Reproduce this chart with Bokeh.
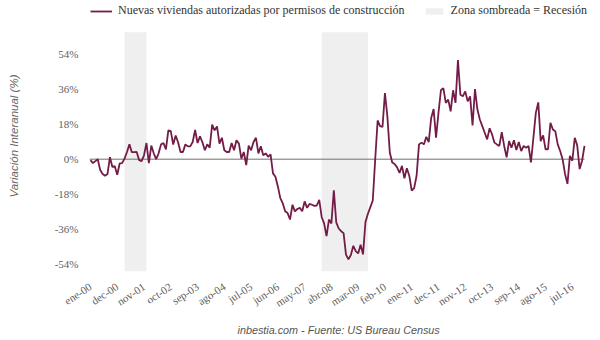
import numpy as np
from bokeh.plotting import figure
from bokeh.models import (FixedTicker, Legend, LegendItem, Title,
                          ColumnDataSource, Range1d)
from bokeh.embed import file_html
from bokeh.resources import INLINE

# Monthly year-on-year change (%), Jan 2000 - Dec 2016
variacion = [
    -0.5, -2, -1, 0, -5.6, -7.6, -8.5, -7.6, 1, -4,
    -3.6, -8, -2.2, -2, 0.3, 3.7, 7.6, 3.6, 3.6, 3.7,
    -0.5, -1, 2, 8.3, -2, 7, 3, 0, 3, 7.6,
    8.3, 5, 14.8, 14.4, 7.5, 12.2, 8.7, 3.7, 3.7, 7.6,
    6.6, 6.6, 8.8, 15, 8.3, 11.7, 8.7, 4.6, 7.6, 5.9,
    17.8, 14.8, 16.8, 8, 11, 4.6, 3.7, 3.7, 8.3, 4.6,
    9.7, 8, 0.3, 3.7, -3, 7, 4.6, 8.8, 11, 3,
    6.6, 2, 3, 1.2, 2.5, -7.3, -9, -14, -20, -22.6,
    -26.8, -27.7, -31, -23.4, -26.8, -25.6, -25, -26.8, -21.7, -25,
    -23, -23.4, -24, -23.8, -20.9,
    -29.7, -33, -39.5, -31, -33, -16, -32.5, -35.6, -37, -38,
    -49, -51.5, -49.2, -44.5, -47.2, -48.4, -44, -48.9, -32.3, -28,
    -24.6, -21.2, 0,
    19.9, 17, 16.6, 34, 22, 3.4, -1.7, -2.5, -4.2, -7.1,
    -3.4, -9.8, -4.7, -8.5, -16.1, -14.9, -8.5, 7.6, 8.5, 7.6,
    11.5, 8.8, 21.2, 25.8, 11, 23.8, 35.4, 36.5, 28.9, 30.6,
    24.6, 35.4, 28.9, 50.9, 33.1, 32.3, 34.8, 29.7, 32.3, 17.3,
    36, 25.5, 20.4, 17, 13.6, 10.2, 15.9, 12.8, 8.5, 7.6,
    6.8, 13.9, 6.8, 0.9, 9.3, 5.9, 9.7, 4.7, 8.8, 4.2,
    6.8, 5.9, 6.8, -1.7, 11, 23.8, 29.2, 9.3, 12.2, 5.1,
    5.1, 18.7, 15.3, 14.4, 7.6, 4.2, 0, -7.6, -12.7, 1.7,
    -0.8, 11, 7.1, -5.1, -0.8, 6.8,
]
inicio_serie = (2000, 1)

etiquetas_x = ["ene-00", "dec-00", "nov-01", "oct-02", "sep-03", "ago-04",
               "jul-05", "jun-06", "may-07", "abr-08", "mar-09", "feb-10",
               "ene-11", "dec-11", "nov-12", "oct-13", "sep-14", "ago-15",
               "jul-16"]
paso_etiquetas = 11

recesion_inicio = ["2001-03", "2007-12"]
recesion_fin = ["2001-12", "2009-07"]

ticks_y = [-54, -36, -18, 0, 18, 36, 54]

serie_label = "Nuevas viviendas autorizadas por permisos de construcción"
zona_label = "Zona sombreada = Recesión"
fuente = "inbestia.com - Fuente: US Bureau Census"


def mes_idx(s):
    y, m = s.split("-")
    return (int(y) - inicio_serie[0]) * 12 + int(m) - inicio_serie[1]


x = list(range(len(variacion)))
n_last = len(variacion) - 1

# layout geometry (pixels)
W, H = 600, 340
border_left, border_bottom, legend_room = 89, 67, 32
data_right_px = 584          # where the last month sits
frame_right_px = 594         # frame extends a bit further so the legend fits
border_right = W - frame_right_px
x_start = -0.4
px_per_month = (data_right_px - border_left) / (n_last - x_start)
x_end = n_last + (frame_right_px - data_right_px) / px_per_month

# value axis limits of the shaded plotting area, plus headroom for the legend
y_lo, y_band_top = -57.7, 65.2
plot_h = H - border_bottom
px_per_unit = (plot_h - legend_room) / (y_band_top - y_lo)
y_hi = y_lo + plot_h / px_per_unit

p = figure(width=W, height=H, output_backend="svg", toolbar_location=None,
           x_range=Range1d(x_start, x_end), y_range=Range1d(y_lo, y_hi),
           min_border_left=border_left, min_border_right=border_right,
           min_border_top=0, min_border_bottom=border_bottom)
p.outline_line_color = None
p.xgrid.visible = False
p.ygrid.visible = False
p.background_fill_color = "white"
p.border_fill_color = "white"

band_src = ColumnDataSource(dict(
    left=[mes_idx(s) for s in recesion_inicio],
    right=[mes_idx(s) for s in recesion_fin],
    bottom=[y_lo] * len(recesion_inicio),
    top=[y_band_top] * len(recesion_inicio)))
bands = p.quad(left="left", right="right", bottom="bottom", top="top",
               source=band_src, fill_color="#efefef", line_color=None)

# zero reference line across the data span
p.segment(x0=[x_start], y0=[0], x1=[n_last], y1=[0], line_color="#707070",
          line_width=1)

line = p.line(x, variacion, line_color="#731c47", line_width=1.8)

# axes
p.yaxis.ticker = FixedTicker(ticks=ticks_y)
p.yaxis.major_label_overrides = {t: f"{t}%" for t in ticks_y}
p.xaxis.ticker = FixedTicker(ticks=[i * paso_etiquetas for i in range(len(etiquetas_x))])
p.xaxis.major_label_overrides = {i * paso_etiquetas: lab for i, lab in enumerate(etiquetas_x)}
p.xaxis.major_label_orientation = 0.58
for ax in (p.xaxis, p.yaxis):
    ax.axis_line_color = None
    ax.major_tick_line_color = None
    ax.minor_tick_line_color = None
    ax.major_label_text_font = "Liberation Serif"
    ax.major_label_text_font_size = "11px"
    ax.major_label_text_color = "#606060"
p.yaxis.major_label_standoff = 5
p.xaxis.major_label_standoff = 8
p.yaxis.axis_label = "Variación Interanual (%)"
p.yaxis.axis_label_text_font = "Liberation Sans"
p.yaxis.axis_label_text_font_style = "italic"
p.yaxis.axis_label_text_font_size = "11.5px"
p.yaxis.axis_label_text_color = "#666666"
p.yaxis.axis_label_standoff = 32

legend = Legend(items=[LegendItem(label=serie_label, renderers=[line]),
                       LegendItem(label=zona_label, renderers=[bands])],
                orientation="horizontal", location=(1, plot_h - 20),
                border_line_color=None, background_fill_alpha=0,
                label_text_font="Liberation Serif", label_text_font_size="12px",
                label_text_color="#333333", glyph_width=22, glyph_height=8,
                label_height=14, label_standoff=6, spacing=18, padding=0, margin=0)
p.add_layout(legend, "center")

p.add_layout(Title(text=fuente, align="left", offset=148,
                   text_font="Liberation Sans", text_font_style="italic",
                   text_font_size="10.8px", text_color="#555555"), "below")

open("out.html", "w").write(file_html(p, INLINE))
